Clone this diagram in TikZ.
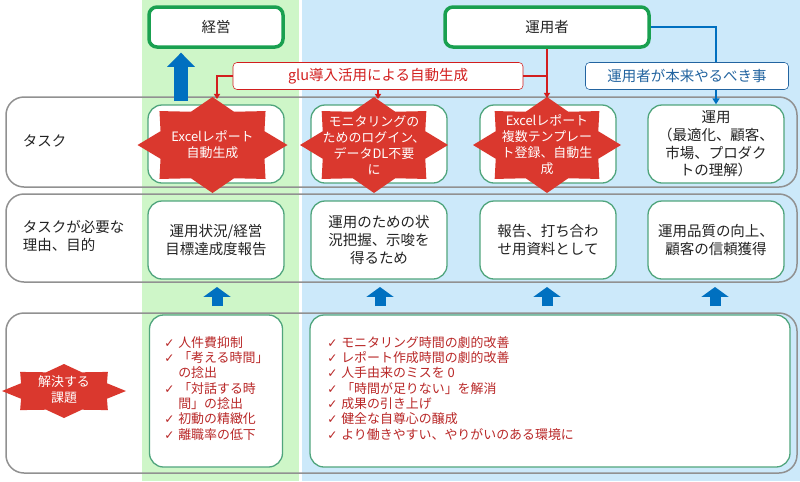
\documentclass[tikz,border=0pt]{standalone}
\usepackage{fontspec}
\setmainfont{Noto Sans CJK JP}
\newfontfamily\dejavu{DejaVu Sans}
\usetikzlibrary{calc,arrows.meta}

\newlength\pxl
\setlength\pxl{0.025cm}

\definecolor{greenbg}{RGB}{206,246,200}
\definecolor{bluebg}{RGB}{204,233,250}
\definecolor{rowgray}{RGB}{145,145,145}
\definecolor{cellgreen}{RGB}{80,165,125}
\definecolor{topgreen}{RGB}{25,160,80}
\definecolor{starred}{RGB}{218,56,46}
\definecolor{linered}{RGB}{210,30,30}
\definecolor{listred}{RGB}{185,40,40}
\definecolor{arrowblue}{RGB}{0,112,192}
\definecolor{labelblue}{RGB}{35,100,160}
\definecolor{txt}{RGB}{35,35,35}

\tikzset{
  rowbox/.style = {draw = rowgray, line width = 1.5\pxl, rounded corners = 18\pxl, inner sep = 0},
  cellbox/.style = {draw = cellgreen, fill = white, line width = 1.3\pxl, rounded corners = 14\pxl,
    minimum width = 136\pxl, minimum height = 78\pxl, align = center, inner sep = 0},
  topbox/.style = {draw = topgreen, fill = white, line width = 3.5\pxl, rounded corners = 8\pxl,
    minimum height = 40\pxl},
  startext/.style = {text = white, align = center, font = \fontsize{9.2}{11.4}\selectfont, inner sep = 0},
  listtext/.style = {text = listred, align = left, font = \fontsize{9.2}{10.9}\selectfont, inner sep = 0},
  redline/.style = {draw = linered, line width = 1.6\pxl},
  redarrow/.style = {redline, -{Triangle[length = 3.6pt, width = 4.3pt]}},
  bluearrow/.style = {draw = arrowblue, line width = 2\pxl, -{Triangle[length = 4.3pt, width = 5pt]}},
  bigarrow/.style = {draw = arrowblue, line width = 14\pxl, -{Triangle[length = 10pt, width = 19.2pt]}},
  smallarrow/.style = {draw = arrowblue, line width = 11\pxl, -{Triangle[length = 7.1pt, width = 19.2pt]}}
}

\newcommand\burst[3]{%
  \fill[starred] ($(#1)+(#2, 0)$)
    \foreach \a in {45,90,...,360} { -- ($(#1)+({0.75*#2*cos(\a-22.5)}, {0.75*#3*sin(\a-22.5)})$)
      -- ($(#1)+({#2*cos(\a)}, {#3*sin(\a)})$) } -- cycle;
}
\newcommand\chk{\makebox[14\pxl][l]{\dejavu\fontsize{8.6}{9}\selectfont ✓}}
\newcommand\nochk{\hspace*{14\pxl}}

\begin{document}
\begin{tikzpicture}[x = 0.025cm, y = -0.025cm, font = \fontsize{10.3}{12.5}\selectfont, text = txt]
    \useasboundingbox (0, 0) rectangle (800, 481);
    \fill[greenbg] (142, 0) rectangle (299, 481);
    \fill[bluebg] (302, 0) rectangle (800, 481);

    % rows
    \node[rowbox, minimum width = 791\pxl, minimum height = 90\pxl] (r1) at (401.5, 142) {};
    \node[rowbox, minimum width = 791\pxl, minimum height = 88\pxl] (r2) at (401.5, 238) {};
    \node[rowbox, minimum width = 791\pxl, minimum height = 160\pxl] (r3) at (401.5, 393) {};
    \node[anchor = west] (l1) at (18, 141) {タスク};
    \node[anchor = west, align = left] (l2) at (18, 236) {タスクが必要な \\ 理由、目的};

    \node[topbox, minimum width = 134\pxl] (mgmt) at (216, 27) {経営};
    \node[topbox, minimum width = 204\pxl] (ops) at (547, 27) {運用者};

    \node[cellbox] (t1) at (216, 144) {};
    \node[cellbox] (t2) at (379, 144) {};
    \node[cellbox] (t3) at (548, 144) {};
    \node[cellbox] (t4) at (716, 144) {運用 \\ （最適化、顧客、 \\ 市場、プロダク \\ トの理解）};

    \node[cellbox] (w1) at (216, 240) {運用状況/経営 \\ 目標達成度報告};
    \node[cellbox] (w2) at (379, 240) {運用のための状 \\ 況把握、示唆を \\ 得るため};
    \node[cellbox] (w3) at (548, 240) {報告、打ち合わ \\ せ用資料として};
    \node[cellbox] (w4) at (716, 240) {運用品質の向上、 \\ 顧客の信頼獲得};

    \node[cellbox, minimum width = 133\pxl, minimum height = 152\pxl] (i1) at (216, 391) {};
    \node[cellbox, minimum width = 480\pxl, minimum height = 152\pxl] (i2) at (550, 391) {};
    \node[listtext, anchor = north west] (k1) at (164, 336) {\chk 人件費抑制 \\ \chk 「考える時間」 \\ \nochk の捻出 \\
        \chk 「対話する時 \\ \nochk 間」の捻出 \\ \chk 初動の精緻化 \\ \chk 離職率の低下};
    \node[listtext, anchor = north west] (k2) at (327, 336) {\chk モニタリング時間の劇的改善 \\ \chk レポート作成時間の劇的改善 \\
        \chk 人手由来のミスを 0 \\ \chk 「時間が足りない」を解消 \\ \chk 成果の引き上げ \\ \chk 健全な自尊心の醸成 \\
        \chk より働きやすい、やりがいのある環境に};

    % stars
    \coordinate (c1) at (212.5, 145);
    \coordinate (c2) at (374, 145);
    \coordinate (c3) at (547, 145);
    \coordinate (c4) at (64, 391);
    \burst{c1}{75}{48}
    \burst{c2}{74}{48}
    \burst{c3}{74}{48}
    \burst{c4}{62}{27}
    \node[startext] (s1) at (c1) {Excelレポート \\ 自動生成};
    \node[startext] (s2) at (c2) {モニタリングの \\ ためのログイン、 \\ データDL不要 \\ に};
    \node[startext] (s3) at (c3) {Excelレポート \\ 複数テンプレー \\ ト登録、自動生 \\ 成};
    \node[startext] (s4) at (64, 390) {解決する \\ 課題};

    % connectors
    \node[draw = linered, fill = white, text = linered, rounded corners = 4\pxl, minimum width = 290\pxl,
        minimum height = 27\pxl] (glu) at (378, 76) {glu導入活用による自動生成};
    \coordinate (e1) at (217, 99);
    \draw[redarrow] (ops.south) -- ($(c3) + (0, -47)$);
    \draw[redline] (glu.east) -- (glu.east -| ops.south);
    \draw[redarrow] (glu.west) -| (e1);
    \draw[redarrow] (glu.south) -- (glu.south |- e1);

    \draw[bluearrow] (ops.east) -| (t4.north);
    \node[draw = labelblue, fill = white, text = labelblue, rounded corners = 4\pxl, minimum width = 203\pxl,
        minimum height = 27\pxl] (job) at (687, 76) {運用者が本来やるべき事};

    \coordinate (a0) at (181, 101);
    \draw[bigarrow, shorten > = 2.8pt] (a0) -- (a0 |- mgmt.south);
    \foreach \x in {217, 380, 547, 715}
        \draw[smallarrow] (\x, 306) -- (\x, 287);
\end{tikzpicture}
\end{document}
